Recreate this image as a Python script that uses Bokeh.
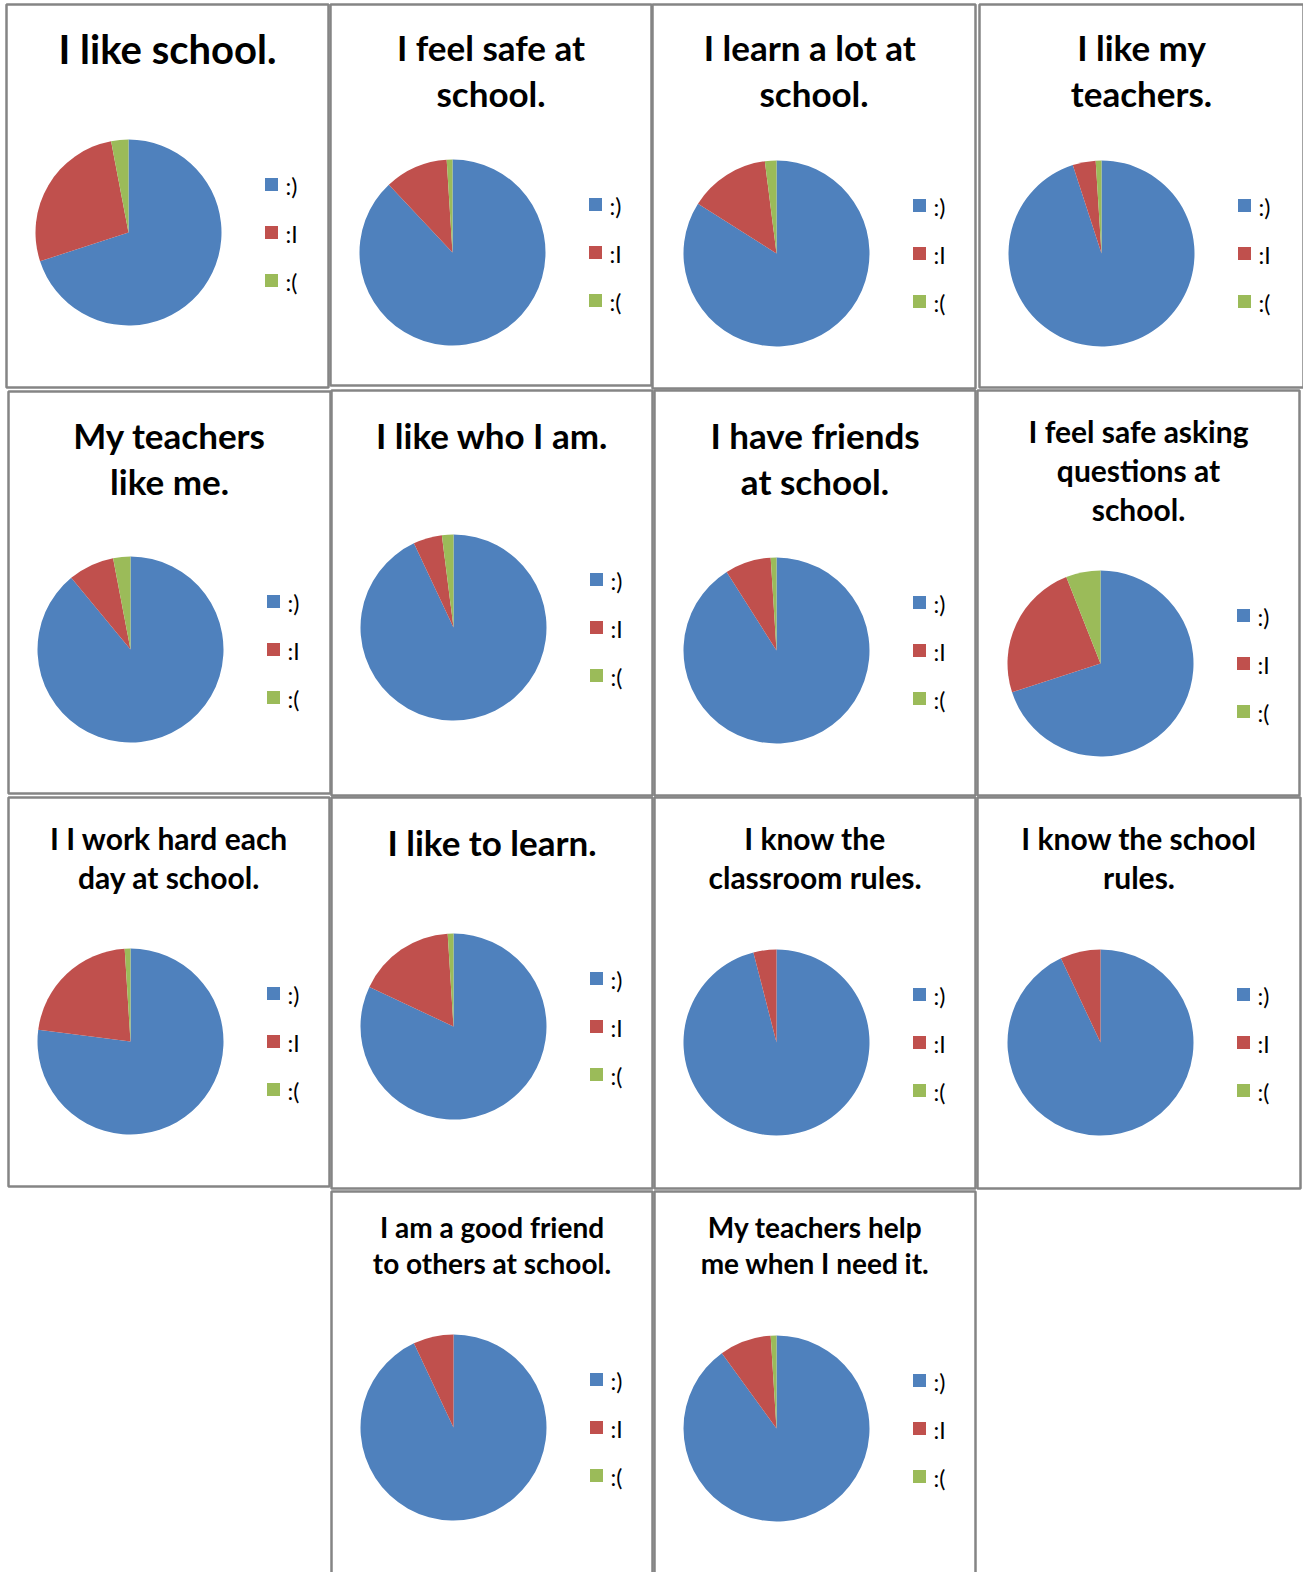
from math import pi

from bokeh.core.properties import value
from bokeh.embed import file_html
from bokeh.models import ColumnDataSource, Range1d
from bokeh.plotting import figure
from bokeh.resources import INLINE

# Survey statements, one pie per statement
titles = [
    "I like school.",
    "I feel safe at\nschool.",
    "I learn a lot  at\nschool.",
    "I like my\nteachers.",
    "My teachers\nlike me.",
    "I like who I am.",
    "I have friends\nat school.",
    "I feel safe asking\nquestions at\nschool.",
    "I I work hard each\nday at school.",
    "I like to learn.",
    "I know the\nclassroom rules.",
    "I know the school\nrules.",
    "I am a good friend\nto others at school.",
    "My teachers help\nme when I need it.",
]

# Answer categories
answers = [":)", ":I", ":("]

# Share of answers per statement (percent)
happy = [70, 88, 84, 95, 89, 93, 91, 70, 77, 82, 96, 93, 93, 90]
neutral = [27, 11, 14, 4, 8, 5, 8, 24, 22, 17, 4, 7, 7, 9]
sad = [3, 1, 2, 1, 3, 2, 1, 6, 1, 1, 0, 0, 0, 1]

colors = ["#4F81BD", "#C0504D", "#9BBB59"]

W, H = 1303, 1572

# Panel frames (left, top, right, bottom) in page pixels
boxes = [
    (6, 4, 328, 387), (330, 4, 651, 385), (652, 4, 975, 388), (979, 4, 1303, 387),
    (8, 391, 330, 793), (331, 390, 652, 795), (654, 390, 975, 795), (977, 390, 1299, 795),
    (8, 797, 329, 1186), (331, 797, 652, 1188), (654, 797, 975, 1188), (977, 797, 1300, 1188),
    (331, 1191, 652, 1590), (654, 1191, 975, 1590),
]
# Pie centres
centers = [
    (128, 232), (452, 252), (776, 253), (1101, 253),
    (130, 649), (453, 627), (776, 650), (1100, 663),
    (130, 1041), (453, 1026), (776, 1042), (1100, 1042),
    (453, 1427), (776, 1428),
]
radius = 93
# First title line position, line step and font size per panel
title_top = [48, 46, 46, 46, 434, 434, 434, 430, 837, 841, 837, 837, 1226, 1226]
title_step = [46, 46, 46, 46, 46, 46, 46, 39, 39, 46, 39, 39, 36, 36]
title_size = [40, 35, 35, 35, 35, 35, 35, 30, 30, 35, 30, 30, 28, 28]


def Y(y):
    return H - y


p = figure(
    width=W, height=H,
    x_range=Range1d(0, W), y_range=Range1d(0, H),
    x_axis_type=None, y_axis_type=None,
    toolbar_location=None, output_backend="svg",
    min_border=0,
)
p.grid.visible = False
p.outline_line_color = None
p.background_fill_color = "white"
p.border_fill_color = "white"

# Panel frames
p.quad(
    left=[b[0] for b in boxes], right=[b[2] for b in boxes],
    top=[Y(b[1]) for b in boxes], bottom=[Y(b[3]) for b in boxes],
    fill_color=None, line_color="#858585", line_width=2.5,
)

# Pie slices, clockwise from twelve o'clock
wx, wy, ws, we, wc = [], [], [], [], []
for i, (cx, cy) in enumerate(centers):
    vals = [happy[i], neutral[i], sad[i]]
    total = float(sum(vals))
    acc = 0.0
    for v, c in zip(vals, colors):
        if v <= 0:
            continue
        start = pi / 2 - 2 * pi * acc / total
        acc += v
        end = pi / 2 - 2 * pi * acc / total
        wx.append(cx)
        wy.append(Y(cy))
        ws.append(start)
        we.append(end)
        wc.append(c)

p.wedge(
    x="x", y="y", radius=radius, start_angle="s", end_angle="e",
    direction="clock", fill_color="c", line_color=None,
    source=ColumnDataSource(dict(x=wx, y=wy, s=ws, e=we, c=wc)),
)

# Legends
lx, ly, lc, tx, ty, tt = [], [], [], [], [], []
for (cx, cy) in centers:
    for k, (lab, c) in enumerate(zip(answers, colors)):
        yy = cy - 48 + 48 * k
        lx.append(cx + 143)
        ly.append(Y(yy))
        lc.append(c)
        tx.append(cx + 157)
        ty.append(Y(yy + 1))
        tt.append(lab)

p.rect(x=lx, y=ly, width=13, height=13, fill_color=lc, line_color=None)
p.text(
    x=tx, y=ty, text=tt, text_font=value("Lato"), text_font_size=value("23px"),
    text_baseline="middle", text_align="left", text_color="black",
)

# Titles
for i, t in enumerate(titles):
    b = boxes[i]
    mx = (b[0] + b[2]) / 2
    lines = t.split("\n")
    p.text(
        x=[mx] * len(lines),
        y=[Y(title_top[i] + title_step[i] * j) for j in range(len(lines))],
        text=lines, text_font=value("Lato"), text_font_style="bold",
        text_font_size=value(f"{title_size[i]}px"),
        text_baseline="middle", text_align="center", text_color="black",
    )

open("out.html", "w").write(file_html(p, INLINE))
